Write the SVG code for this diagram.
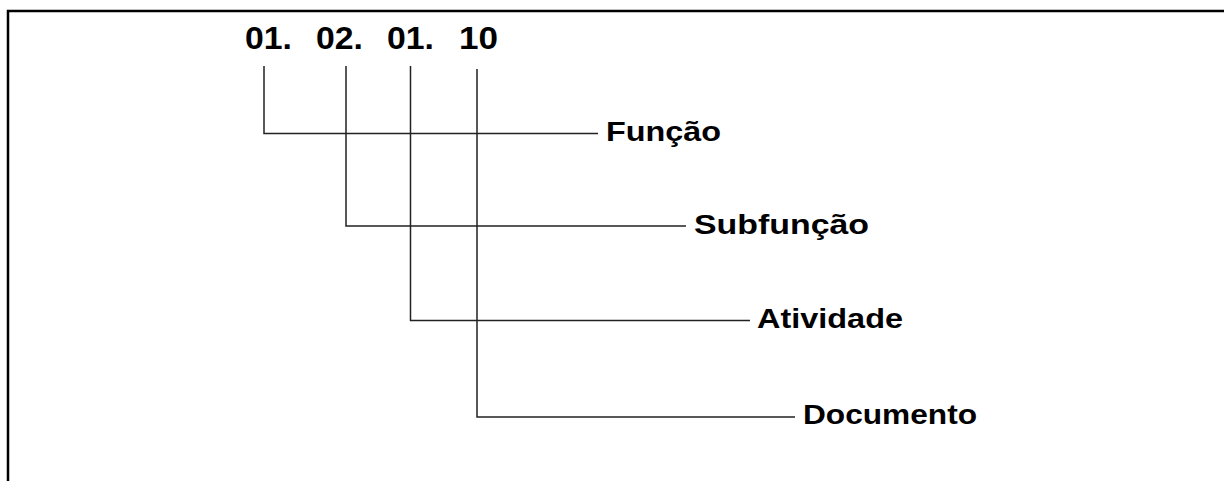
<svg xmlns="http://www.w3.org/2000/svg" width="1224" height="481" viewBox="0 0 1224 481">
<style>
.num{font-family:"Liberation Sans",Arial,sans-serif;font-weight:bold;font-size:31px;fill:#000}
.lbl{font-family:"Liberation Sans",Arial,sans-serif;font-weight:bold;font-size:28px;fill:#000}
.ln{fill:none;stroke:#222;stroke-width:1.5}
</style>
<rect width="1224" height="481" fill="#fff"/>
<path d="M8,481 V11 H1224" fill="none" stroke="#000" stroke-width="2.5"/>
<g id="code">
<text class="num" x="245" y="48.5" textLength="47" lengthAdjust="spacingAndGlyphs">01.</text>
<text class="num" x="316" y="48.5" textLength="47" lengthAdjust="spacingAndGlyphs">02.</text>
<text class="num" x="387" y="48.5" textLength="47" lengthAdjust="spacingAndGlyphs">01.</text>
<text class="num" x="459" y="48.5" textLength="39" lengthAdjust="spacingAndGlyphs">10</text>
</g>
<g id="connectors">
<path class="ln" d="M264,66 V133.5 H598"/>
<path class="ln" d="M346,66 V226 H686"/>
<path class="ln" d="M410.5,66 V320.5 H750"/>
<path class="ln" d="M477,69 V417 H795"/>
</g>
<g id="funcao"><text class="lbl" x="606" y="140.5" textLength="115" lengthAdjust="spacingAndGlyphs">Função</text></g>
<g id="subfuncao"><text class="lbl" x="694" y="233.5" textLength="175" lengthAdjust="spacingAndGlyphs">Subfunção</text></g>
<g id="atividade"><text class="lbl" x="757" y="327.5" textLength="146" lengthAdjust="spacingAndGlyphs">Atividade</text></g>
<g id="documento"><text class="lbl" x="803" y="423.5" textLength="174" lengthAdjust="spacingAndGlyphs">Documento</text></g>
</svg>
